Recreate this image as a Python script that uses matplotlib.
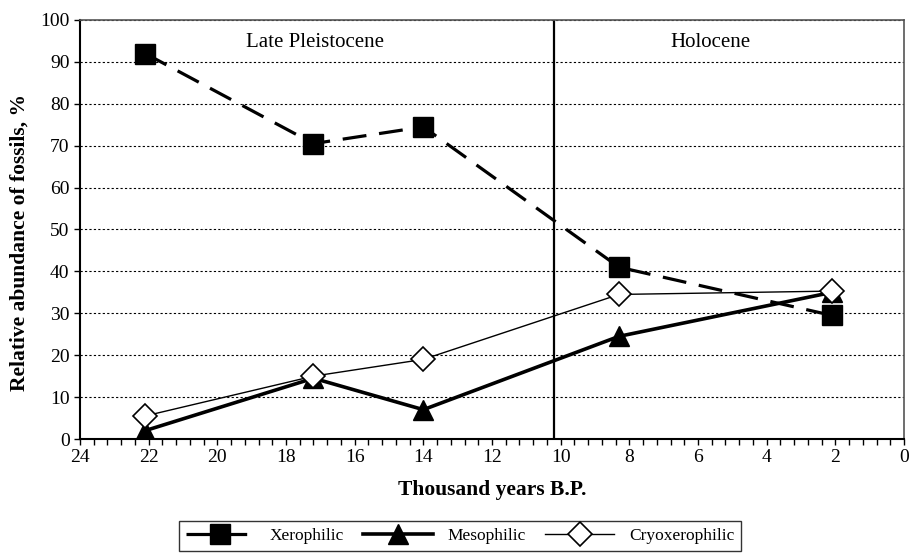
import matplotlib
matplotlib.use("Agg")
import matplotlib.pyplot as plt
from matplotlib.ticker import MultipleLocator

plt.rcParams["font.family"] = ["Liberation Serif", "DejaVu Serif"]

# data
ages = [22.1, 17.2, 14, 8.3, 2.1]      # thousand years B.P.
xerophilic = [92, 70.5, 74.5, 41, 29.5]
mesophilic = [2, 14.5, 7, 24.5, 35]
cryoxerophilic = [5.5, 15, 19, 34.5, 35.3]

boundary = 10.2                        # Pleistocene / Holocene
periods = ["Late Pleistocene", "Holocene"]
period_x = [17.15, 5.65]

fig = plt.figure(figsize=(9.09, 5.56), dpi=100)
ax = fig.add_axes([80 / 909, 1 - 439 / 556, 824 / 909, 419 / 556])

ax.plot(ages, xerophilic, color="black", lw=2.3, ls=(0, (7.5, 4)),
        marker="s", ms=14, mfc="black", mec="black", label="Xerophilic", zorder=3)
ax.plot(ages, mesophilic, color="black", lw=2.6,
        marker="^", ms=14, mfc="black", mec="black", label="Mesophilic", zorder=4)
ax.plot(ages, cryoxerophilic, color="black", lw=1.0,
        marker="D", ms=12, mfc="white", mec="black", mew=1.2,
        label="Cryoxerophilic", zorder=5)

ax.axvline(boundary, color="black", lw=1.6, zorder=2)
for name, px in zip(periods, period_x):
    ax.text(px, 94.7, name, ha="center", va="center", fontsize=15)

ax.set_xlim(24, 0)
ax.set_ylim(0, 100)
ax.xaxis.set_major_locator(MultipleLocator(2))
ax.xaxis.set_minor_locator(MultipleLocator(0.4))
ax.yaxis.set_major_locator(MultipleLocator(10))
ax.yaxis.grid(True, ls=(0, (2, 2)), color="black", lw=0.8)
ax.tick_params(axis="both", labelsize=14, direction="out", length=4, width=1)
ax.tick_params(axis="x", which="minor", length=4, width=1)

for side in ["left", "bottom"]:
    ax.spines[side].set_linewidth(1.5)
for side in ["top", "right"]:
    ax.spines[side].set_color("#555555")
    ax.spines[side].set_linewidth(1.2)

ax.set_xlabel("Thousand years B.P.", fontsize=15.5, fontweight="bold", labelpad=10)
ax.set_ylabel("Relative abundance of fossils, %", fontsize=15.5, fontweight="bold")
ax.yaxis.set_label_coords(-0.061, 0.47)

leg = fig.legend(loc="center", bbox_to_anchor=(460 / 909, 1 - 536 / 556),
                 ncol=3, frameon=True, fancybox=False, edgecolor="black",
                 fontsize=12.5, handlelength=4.0, handletextpad=0.85,
                 columnspacing=1.1, borderpad=0.4)
leg.get_frame().set_linewidth(1.0)

fig.savefig("out.png", dpi=100)
